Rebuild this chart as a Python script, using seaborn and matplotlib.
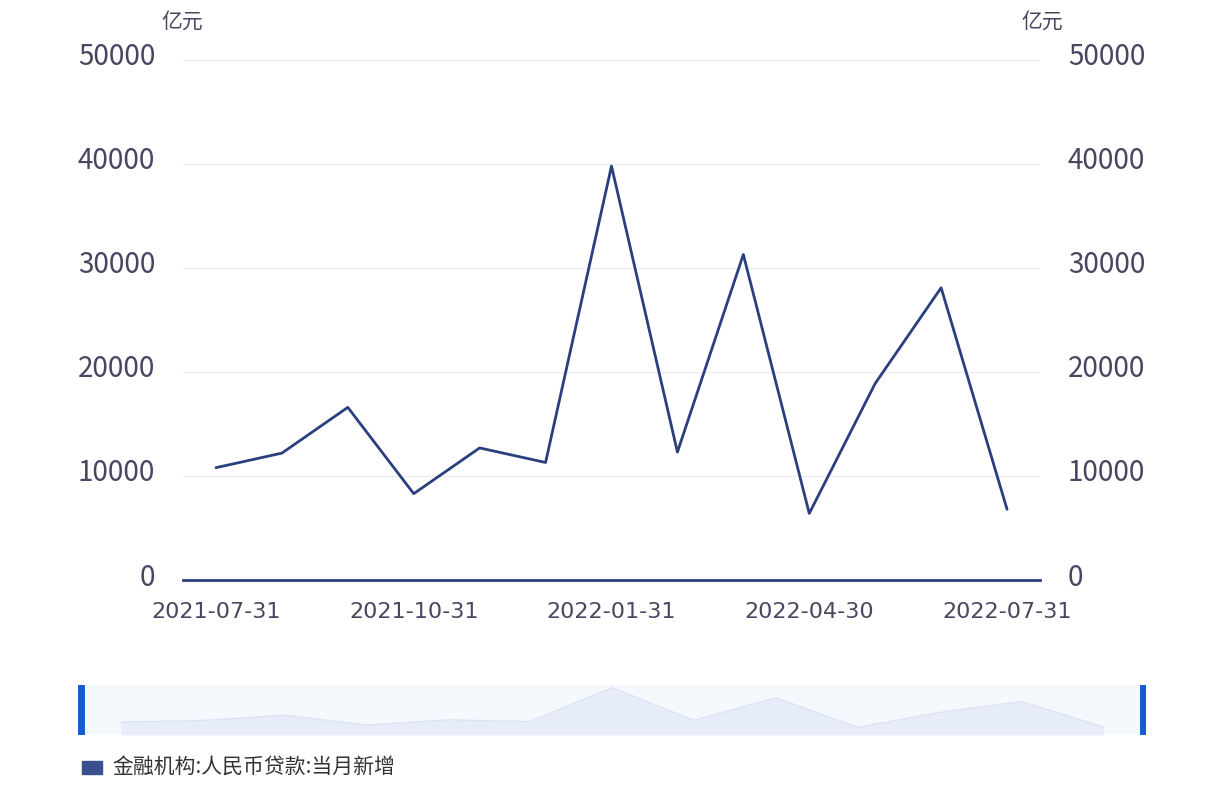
import matplotlib
matplotlib.use("Agg")
import matplotlib.pyplot as plt
import matplotlib.transforms as mtransforms
import seaborn as sns
import pandas as pd
import numpy as np

dates = ["2021-07-31","2021-08-31","2021-09-30","2021-10-31","2021-11-30","2021-12-31",
         "2022-01-31","2022-02-28","2022-03-31","2022-04-30","2022-05-31","2022-06-30","2022-07-31"]
values = [10800, 12200, 16600, 8300, 12700, 11300, 39800, 12300, 31300, 6400, 18900, 28100, 6800]
tick_labels = ["2021-07-31","2021-10-31","2022-01-31","2022-04-30","2022-07-31"]
yticks = [0, 10000, 20000, 30000, 40000, 50000]
series_name = "金融机构:人民币贷款:当月新增"

sns.set_theme(style="white")
plt.rcParams['font.family'] = ['Noto Sans CJK SC', 'DejaVu Sans']

W, H = 1224, 800
fig = plt.figure(figsize=(W/100, H/100), dpi=100)
ax = fig.add_axes([183/W, 1-580/H, (1040-183)/W, (580-60)/H])
df = pd.DataFrame({"i": np.arange(len(values)), "v": values})
sns.lineplot(data=df, x="i", y="v", ax=ax, color="#2a3f7e", lw=2)
ax.set_xlim(-0.5, len(values)-0.5)
ax.set_ylim(0, 50000)
ax.set_yticks(yticks)
ax.set_yticklabels([str(t) for t in yticks], color="#4a4560", fontsize=20)
ax.yaxis.grid(True, color="#ececf2", lw=1)
ax.set_xticks([0, 3, 6, 9, 12])
ax.set_xticklabels(tick_labels, color="#4a4560", fontsize=16, family=['DejaVu Sans'])
ax.tick_params(axis='x', length=0, pad=16)
ax.tick_params(axis='y', length=0, pad=20)
for s in ["top", "right", "left"]:
    ax.spines[s].set_visible(False)
ax.spines["bottom"].set_color("#2a3f7e")
ax.spines["bottom"].set_linewidth(2)
ax.set_xlabel(""); ax.set_ylabel("")
ax2 = ax.twinx()
ax2.set_ylim(0, 50000)
ax2.set_yticks(yticks)
ax2.set_yticklabels([str(t) for t in yticks], color="#4a4560", fontsize=20)
ax2.tick_params(axis='y', length=0, pad=20)
for s in ["top", "right", "left", "bottom"]:
    ax2.spines[s].set_visible(False)
off = mtransforms.ScaledTranslation(0, 6/100, fig.dpi_scale_trans)
for lab in ax.get_yticklabels() + ax2.get_yticklabels():
    lab.set_transform(lab.get_transform() + off)
fig.text(182/W, 1-22/H, "亿元", ha="center", va="center", fontsize=15, color="#4a4560")
fig.text(1042/W, 1-22/H, "亿元", ha="center", va="center", fontsize=15, color="#4a4560")

# data zoom slider
sx = fig.add_axes([78/W, 1-735/H, (1146-78)/W, 50/H])
sx.set_facecolor("#f5f8fd")
xs = np.linspace(0.04, 0.96, len(values))
sx.fill_between(xs, 0, values, color="#e6edf9", lw=0)
sx.plot(xs, values, color="#dbe3f4", lw=1)
sx.set_xlim(0, 1); sx.set_ylim(0, 42000)
sx.set_xticks([]); sx.set_yticks([])
for s in sx.spines.values():
    s.set_visible(False)
sx.axvline(0.003, color="#1a5ad0", lw=5)
sx.axvline(0.997, color="#1a5ad0", lw=5)

# legend
fig.patches.append(plt.Rectangle((82/W, 1-774/H), 20/W, 13/H, transform=fig.transFigure,
                                 color="#3a4f8e", zorder=5))
fig.text(112/W, 1-767/H, series_name, va="center", fontsize=15, color="#333333")
fig.savefig("out.png", dpi=100)
